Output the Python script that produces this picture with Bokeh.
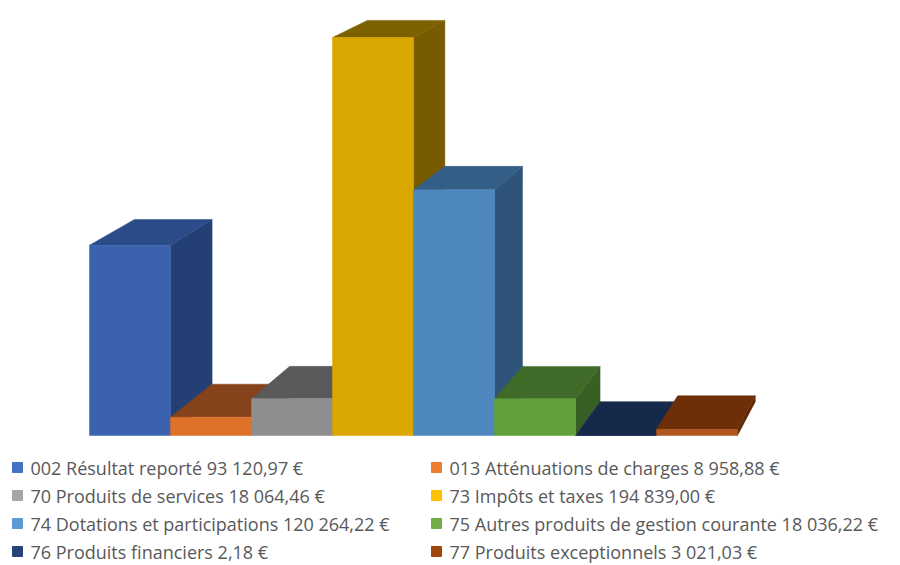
import numpy as np
from bokeh.plotting import figure
from bokeh.layouts import column
from bokeh.models import Range1d, ColumnDataSource
from bokeh.embed import file_html
from bokeh.resources import INLINE
from bokeh.core.properties import value

# ---------------- data ----------------
codes = ["002", "013", "70", "73", "74", "75", "76", "77"]
amounts = [93120.97, 8958.88, 18064.46, 194839.00, 120264.22, 18036.22, 2.18, 3021.03]
legend_labels = [
    "002 Résultat reporté  93 120,97 €",
    "013 Atténuations de charges 8 958,88 €",
    "70 Produits de services  18 064,46 €",
    "73 Impôts et taxes  194 839,00 €",
    "74 Dotations et participations 120 264,22 €",
    "75 Autres produits de gestion courante 18 036,22 €",
    "76 Produits financiers 2,18 €",
    "77 Produits exceptionnels  3 021,03 €",
]
legend_colors = ["#4472C4", "#ED7D31", "#A5A5A5", "#FFC000", "#5B9BD5", "#70AD47", "#264478", "#9E480E"]
front_colors = ["#3A62AD", "#DD7228", "#8E8E8E", "#D9A700", "#4E86BE", "#62A03B", "#1D3560", "#B0561C"]
top_colors = ["#2B4C88", "#86421A", "#5A5A5A", "#7D6000", "#335E86", "#3F6A28", "#17294A", "#6E2E08"]
side_colors = ["#233F74", "#7A3B14", "#4E4E4E", "#775B00", "#2E5479", "#385F24", "#12213D", "#5E2706"]

# ---------------- layout constants (pixels) ----------------
W, H_TOP, H_LEG = 900, 445, 120
PX_LEFT, BAR_PX, BASE_PX, MAX_BAR_PX = 89, 81, 435, 398
VP_PX = (1160, -370)     # perspective vanishing point
DEPTH = 0.042            # depth fraction toward vanishing point

n = len(amounts)
h = np.array(amounts)
ppu = MAX_BAR_PX / h.max()

x_range = Range1d(-PX_LEFT / BAR_PX, (W - PX_LEFT) / BAR_PX)
y_range = Range1d(-(H_TOP - BASE_PX) / ppu, BASE_PX / ppu)
VX = (VP_PX[0] - PX_LEFT) / BAR_PX
VY = (BASE_PX - VP_PX[1]) / ppu


def proj(x, y):
    return x + DEPTH * (VX - x), y + DEPTH * (VY - y)


x0 = np.arange(n, dtype=float)
x1 = x0 + 1.0

front_xs, front_ys, top_xs, top_ys, side_xs, side_ys = [], [], [], [], [], []
for i in range(n):
    front_xs.append([x0[i], x1[i], x1[i], x0[i]])
    front_ys.append([0.0, 0.0, h[i], h[i]])
    bx0, by = proj(x0[i], h[i])
    bx1, _ = proj(x1[i], h[i])
    top_xs.append([x0[i], x1[i], bx1, bx0])
    top_ys.append([h[i], h[i], by, by])
    sbx, sby = proj(x1[i], 0.0)
    side_xs.append([x1[i], sbx, bx1, x1[i]])
    side_ys.append([0.0, sby, by, h[i]])

p = figure(width=W, height=H_TOP, x_range=x_range, y_range=y_range,
           output_backend="svg", toolbar_location=None, min_border=0)
p.axis.visible = False
p.grid.visible = False
p.outline_line_color = None
p.background_fill_color = "white"

p.patches(side_xs, side_ys, fill_color=side_colors, line_color=side_colors, line_width=0.5)
p.patches(top_xs, top_ys, fill_color=top_colors, line_color=top_colors, line_width=0.5)
p.patches(front_xs, front_ys, fill_color=front_colors, line_color=front_colors, line_width=0.5)

# ---------------- legend ----------------
leg = figure(width=W, height=H_LEG, x_range=Range1d(0, W), y_range=Range1d(H_LEG, 0),
             output_backend="svg", toolbar_location=None, min_border=0)
leg.axis.visible = False
leg.grid.visible = False
leg.outline_line_color = None

col = np.arange(n) % 2
row = np.arange(n) // 2
sw_x = np.where(col == 0, 17, 436)
tx_x = np.where(col == 0, 30, 449)
ry = 22 + 28 * row

src = ColumnDataSource(dict(sx=sw_x, tx=tx_x, y=ry, label=legend_labels, color=legend_colors))
leg.scatter("sx", "y", source=src, marker="square", size=10, fill_color="color", line_color="color")
leg.text("tx", "y", text="label", source=src, text_font=value("Open Sans"), text_font_size="18px",
         text_color="#595959", text_baseline="middle", text_align="left")

layout = column(p, leg, spacing=0)
open("out.html", "w").write(file_html(layout, INLINE))
